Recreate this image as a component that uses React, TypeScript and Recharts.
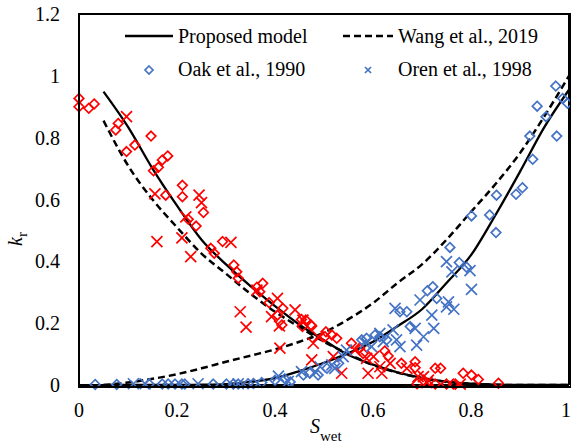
import React from "react";
import {
  ComposedChart,
  Line,
  Scatter,
  XAxis,
  YAxis,
  ReferenceLine,
} from "recharts";

// Saturation grid for the model curves
const curveS = [0.05, 0.1, 0.15, 0.2, 0.25, 0.3, 0.35, 0.4, 0.45, 0.5, 0.55, 0.6, 0.65, 0.7, 0.75, 0.8, 0.85, 0.9, 0.95, 1.0];

// Proposed model: non-wetting and wetting branches
const proposedNw = [0.949, 0.835, 0.7, 0.58, 0.47, 0.39, 0.32, 0.255, 0.195, 0.145, 0.097, 0.066, 0.041, 0.023, 0.011, 0.004, 0.001, 0, 0, 0];
const proposedW = [0, 0, 0, 0, 0.001, 0.003, 0.01, 0.022, 0.045, 0.072, 0.103, 0.14, 0.19, 0.245, 0.33, 0.42, 0.55, 0.69, 0.835, 0.955];

// Wang et al., 2019: non-wetting and wetting branches
const wangNw = [0.855, 0.71, 0.6, 0.51, 0.425, 0.36, 0.295, 0.237, 0.187, 0.14, 0.1, 0.065, 0.04, 0.022, 0.01, 0.004, 0.001, 0, 0, 0];
const wangW = [0, 0.008, 0.02, 0.035, 0.054, 0.075, 0.095, 0.115, 0.14, 0.17, 0.213, 0.265, 0.33, 0.39, 0.47, 0.56, 0.65, 0.75, 0.87, 1.0];

// Oak et al., 1990 measurements [S_wet, k_r]
const oakNw: [number, number][] = [
  [0, 0.927], [0, 0.9], [0.02, 0.895], [0.031, 0.909], [0.08, 0.846], [0.075, 0.825],
  [0.147, 0.805], [0.114, 0.776], [0.097, 0.755], [0.181, 0.741], [0.17, 0.728], [0.162, 0.704],
  [0.152, 0.693], [0.211, 0.646], [0.211, 0.609], [0.177, 0.614], [0.254, 0.558], [0.239, 0.514],
  [0.223, 0.536], [0.293, 0.464], [0.269, 0.442], [0.276, 0.426], [0.316, 0.388], [0.322, 0.366],
  [0.325, 0.345], [0.375, 0.329], [0.363, 0.316], [0.369, 0.302], [0.388, 0.266], [0.416, 0.248],
  [0.405, 0.226], [0.414, 0.194], [0.454, 0.212], [0.473, 0.194], [0.456, 0.189], [0.463, 0.21],
  [0.475, 0.191], [0.504, 0.172], [0.502, 0.156], [0.516, 0.162], [0.526, 0.151], [0.556, 0.135],
  [0.573, 0.12], [0.58, 0.102], [0.624, 0.11], [0.631, 0.094], [0.658, 0.07], [0.686, 0.075],
  [0.686, 0.056], [0.727, 0.054], [0.738, 0.054], [0.784, 0.038], [0.801, 0.032], [0.815, 0.018],
  [0.856, 0.006], [0.69, 0.004], [0.727, 0.003], [0.75, 0.003], [0.764, 0.003],
];

const oakW: [number, number][] = [
  [0.033, 0.002], [0.077, 0.002], [0.143, 0.003], [0.17, 0.003], [0.182, 0.003], [0.196, 0.003],
  [0.21, 0.003], [0.216, 0.003], [0.274, 0.003], [0.301, 0.003], [0.315, 0.003], [0.325, 0.003],
  [0.345, 0.004], [0.356, 0.005], [0.373, 0.008], [0.4, 0.015], [0.42, 0.02], [0.431, 0.01],
  [0.458, 0.032], [0.471, 0.038], [0.488, 0.032], [0.506, 0.054], [0.53, 0.07], [0.577, 0.146],
  [0.587, 0.151], [0.604, 0.162], [0.614, 0.156], [0.628, 0.146], [0.655, 0.237], [0.669, 0.237],
  [0.676, 0.189], [0.711, 0.305], [0.722, 0.318], [0.73, 0.28], [0.757, 0.445], [0.776, 0.396],
  [0.791, 0.381], [0.801, 0.547], [0.838, 0.55], [0.851, 0.493], [0.852, 0.614], [0.892, 0.617],
  [0.905, 0.638], [0.926, 0.73], [0.92, 0.805], [0.975, 0.805], [0.935, 0.902], [0.953, 0.868],
  [0.973, 0.967], [0.987, 0.927], [0.997, 0.911],
];

// Oren et al., 1998 measurements [S_wet, k_r]
const orenNw: [number, number][] = [
  [0.097, 0.868], [0.155, 0.618], [0.245, 0.614], [0.25, 0.59], [0.218, 0.544], [0.159, 0.464],
  [0.21, 0.476], [0.228, 0.415], [0.31, 0.461], [0.363, 0.307], [0.405, 0.28], [0.441, 0.243],
  [0.393, 0.221], [0.329, 0.237], [0.341, 0.187], [0.409, 0.191], [0.41, 0.119], [0.457, 0.21],
  [0.478, 0.135], [0.488, 0.156], [0.475, 0.081], [0.519, 0.092], [0.536, 0.038], [0.563, 0.113],
  [0.587, 0.086], [0.601, 0.092], [0.59, 0.038], [0.614, 0.059], [0.618, 0.038], [0.635, 0.07],
  [0.669, 0.054], [0.692, 0.027], [0.703, 0.027], [0.713, 0.016], [0.71, 0.008], [0.778, 0.003],
];

const orenW: [number, number][] = [
  [0.111, 0.004], [0.135, 0.004], [0.243, 0.004], [0.325, 0.004], [0.407, 0.029], [0.427, 0.012],
  [0.454, 0.043], [0.482, 0.043], [0.492, 0.059], [0.516, 0.065], [0.522, 0.054], [0.539, 0.092],
  [0.546, 0.113], [0.584, 0.135], [0.597, 0.124], [0.614, 0.167], [0.621, 0.14], [0.641, 0.178],
  [0.648, 0.146], [0.655, 0.124], [0.645, 0.248], [0.686, 0.183], [0.689, 0.129], [0.703, 0.156],
  [0.696, 0.275], [0.72, 0.226], [0.724, 0.183], [0.75, 0.399], [0.761, 0.366], [0.798, 0.37],
  [0.801, 0.309], [0.754, 0.269], [0.75, 0.253], [0.765, 0.245],
];

const xTicks = [0, 0.2, 0.4, 0.6, 0.8, 1];
const yTicks = [0, 0.2, 0.4, 0.6, 0.8, 1, 1.2];

const RED = "#FF0000";
const BLUE = "#4472C4";
const FONT = "'Liberation Serif', 'Times New Roman', serif";

// Plot-area geometry shared by the chart margins and the overlay
const W = 571;
const H = 444;
const M = { top: 14, right: 2, bottom: 0, left: 0 };
const Y_AXIS_W = 79;
const X_AXIS_H = 59;
const PLOT = {
  x: M.left + Y_AXIS_W,
  y: M.top,
  w: W - M.left - M.right - Y_AXIS_W,
  h: H - M.top - M.bottom - X_AXIS_H,
};
const FRAME_W = 2;

const toCurve = (ys: number[]) => curveS.map((x, i) => ({ x, y: ys[i] }));
const toPoints = (pts: [number, number][]) => pts.map(([x, y]) => ({ x, y }));

const diamond = (color: string) => (p: any) => {
  const { cx, cy } = p;
  const r = 4.8;
  return (
    <path
      d={`M${cx},${cy - r}L${cx + r},${cy}L${cx},${cy + r}L${cx - r},${cy}Z`}
      fill="none"
      stroke={color}
      strokeWidth={1.7}
    />
  );
};

const cross = (color: string) => (p: any) => {
  const { cx, cy } = p;
  const r = 5.5;
  return (
    <path
      d={`M${cx - r},${cy - r}L${cx + r},${cy + r}M${cx - r},${cy + r}L${cx + r},${cy - r}`}
      fill="none"
      stroke={color}
      strokeWidth={1.7}
    />
  );
};

export default function App() {
  return (
    <div style={{ position: "absolute", left: 0, top: 0, width: W, height: H, background: "#fff" }}>
      <ComposedChart width={W} height={H} margin={M}>
        <XAxis
          type="number"
          dataKey="x"
          domain={[0, 1]}
          ticks={xTicks}
          height={X_AXIS_H}
          axisLine={{ stroke: "#000", strokeWidth: FRAME_W }}
          tickLine={false}
          tickMargin={12}
          tick={{ fill: "#000", fontSize: 20, fontFamily: FONT }}
        />
        <YAxis
          type="number"
          dataKey="y"
          domain={[0, 1.2]}
          ticks={yTicks}
          width={Y_AXIS_W}
          axisLine={{ stroke: "#000", strokeWidth: FRAME_W }}
          tickLine={false}
          tickMargin={13}
          tick={{ fill: "#000", fontSize: 20, fontFamily: FONT }}
        />
        <Scatter data={toPoints(oakNw)} shape={diamond(RED)} isAnimationActive={false} />
        <Scatter data={toPoints(orenNw)} shape={cross(RED)} isAnimationActive={false} />
        <Scatter data={toPoints(oakW)} shape={diamond(BLUE)} isAnimationActive={false} />
        <Scatter data={toPoints(orenW)} shape={cross(BLUE)} isAnimationActive={false} />
        <Line data={toCurve(wangNw)} dataKey="y" type="monotone" dot={false} stroke="#000" strokeWidth={2.5} strokeDasharray="7 4" isAnimationActive={false} />
        <Line data={toCurve(wangW)} dataKey="y" type="monotone" dot={false} stroke="#000" strokeWidth={2.5} strokeDasharray="7 4" isAnimationActive={false} />
        <Line data={toCurve(proposedNw)} dataKey="y" type="monotone" dot={false} stroke="#000" strokeWidth={2.3} isAnimationActive={false} />
        <Line data={toCurve(proposedW)} dataKey="y" type="monotone" dot={false} stroke="#000" strokeWidth={2.3} isAnimationActive={false} />
        <ReferenceLine y={1.2} stroke="#000" strokeWidth={FRAME_W} />
        <ReferenceLine x={1} stroke="#000" strokeWidth={FRAME_W} />
      </ComposedChart>

      {/* Plot frame as a bordered box over the plot area */}
      <div
        style={{
          position: "absolute",
          left: PLOT.x - FRAME_W / 2,
          top: PLOT.y - FRAME_W / 2,
          width: PLOT.w,
          height: PLOT.h,
          border: `${FRAME_W}px solid #000`,
          pointerEvents: "none",
        }}
      />

      {/* Legend and axis titles */}
      <svg
        width={W}
        height={H}
        style={{ position: "absolute", left: 0, top: 0, pointerEvents: "none" }}
        fontFamily={FONT}
      >
        <line x1={125} y1={36} x2={173} y2={36} stroke="#000" strokeWidth={2.3} />
        <text x={178} y={43} fontSize={20} fill="#000">Proposed model</text>
        <line x1={343} y1={36} x2={393} y2={36} stroke="#000" strokeWidth={2.5} strokeDasharray="7 4" />
        <text x={398} y={43} fontSize={20} fill="#000">Wang et al., 2019</text>
        <path d="M149,66 L153,70 L149,74 L145,70 Z" fill="none" stroke={BLUE} strokeWidth={1.7} />
        <text x={178} y={76} fontSize={20} fill="#000">Oak et al., 1990</text>
        <path d="M365,67 L371,73 M365,73 L371,67" fill="none" stroke={BLUE} strokeWidth={1.7} />
        <text x={398} y={76} fontSize={20} fill="#000">Oren et al., 1998</text>

        <text x={310} y={433} fontSize={20} fill="#000">
          <tspan fontStyle="italic">S</tspan>
          <tspan fontSize={15} dy={8}>wet</tspan>
        </text>
        <text transform="translate(22,246) rotate(-90)" fontSize={20} fill="#000">
          <tspan fontStyle="italic">k</tspan>
          <tspan fontSize={15} dy={5}>r</tspan>
        </text>
      </svg>
    </div>
  );
}
